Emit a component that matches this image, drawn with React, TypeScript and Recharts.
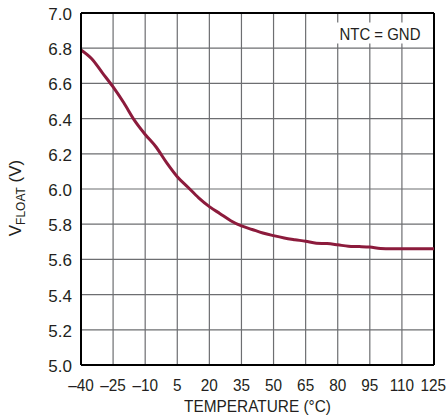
import React from 'react';
import { LineChart, Line, XAxis, YAxis, CartesianGrid, ReferenceLine, ReferenceArea } from 'recharts';

const temperatures = [-40, -35, -30, -25, -20, -15, -10, -5, 0, 5, 10, 15, 20, 25, 30, 35, 40, 45, 50, 55, 60, 65, 70, 75, 80, 85, 90, 95, 100, 105, 110, 115, 120, 125];
const vFloat = [6.79, 6.74, 6.66, 6.58, 6.49, 6.39, 6.31, 6.24, 6.15, 6.07, 6.01, 5.95, 5.9, 5.86, 5.82, 5.79, 5.77, 5.75, 5.735, 5.722, 5.712, 5.703, 5.692, 5.69, 5.683, 5.675, 5.673, 5.67, 5.662, 5.66, 5.66, 5.66, 5.66, 5.66];
const xTicks = [-40, -25, -10, 5, 20, 35, 50, 65, 80, 95, 110, 125];
const yTicks = [5.0, 5.2, 5.4, 5.6, 5.8, 6.0, 6.2, 6.4, 6.6, 6.8, 7.0];
const annotation = 'NTC = GND';
const xTitle = 'TEMPERATURE (°C)';

const data = temperatures.map((t, i) => ({ t, v: vFloat[i] }));

const FONT = '"Liberation Sans", Arial, Helvetica, sans-serif';
const TEXT = '#231f20';

const XTick = (props: any) => {
  const { x, y, payload, index } = props;
  const v = payload.value as number;
  const s = v < 0 ? `–${Math.abs(v)}` : `${v}`;
  const isLast = index === xTicks.length - 1;
  return (
    <g transform={`translate(${isLast ? x + 12 : x},${y + 26}) scale(0.93,1)`}>
      <text x={0} y={0} textAnchor={isLast ? 'end' : 'middle'} fontFamily={FONT} fontSize={16.5} fill={TEXT}>
        {s}
      </text>
    </g>
  );
};

const YTick = (props: any) => {
  const { x, y, payload } = props;
  return (
    <text x={x - 9} y={y + 7} textAnchor="end" fontFamily={FONT} fontSize={17} fill={TEXT}>
      {(payload.value as number).toFixed(1)}
    </text>
  );
};

const YLabel = (props: any) => {
  const vb = props.viewBox || {};
  const cx = 21;
  const cy = (vb.y ?? 0) + (vb.height ?? 0) / 2 + 9;
  return (
    <text
      transform={`translate(${cx},${cy}) rotate(-90)`}
      textAnchor="middle"
      fontFamily={FONT}
      fontSize={17}
      fill={TEXT}
    >
      <tspan>V</tspan>
      <tspan fontSize={12} dy={4}>FLOAT</tspan>
      <tspan dy={-4}> (V)</tspan>
    </text>
  );
};

const XLabel = (props: any) => {
  const vb = props.viewBox || {};
  const cx = (vb.x ?? 0) + (vb.width ?? 0) / 2;
  return (
    <text
      x={cx}
      y={412}
      textAnchor="middle"
      fontFamily={FONT}
      fontSize={16.5}
      fill={TEXT}
      textLength={147}
      lengthAdjust="spacingAndGlyphs"
    >
      {xTitle}
    </text>
  );
};

const NoteLabel = (props: any) => {
  const vb = props.viewBox || {};
  const cx = (vb.x ?? 0) + (vb.width ?? 0) / 2;
  const cy = (vb.y ?? 0) + (vb.height ?? 0) / 2;
  return (
    <text
      x={cx}
      y={cy + 6.5}
      textAnchor="middle"
      fontFamily={FONT}
      fontSize={17}
      fill={TEXT}
      textLength={81}
      lengthAdjust="spacingAndGlyphs"
    >
      {annotation}
    </text>
  );
};

export default function App() {
  return (
    <div style={{ position: 'absolute', left: 0, top: 0, width: 446, height: 416, background: '#fff' }}>
      <LineChart
        width={446}
        height={416}
        data={data}
        margin={{ top: 13, right: 12, left: 0, bottom: 0 }}
        style={{ fontFamily: FONT }}
      >
        <CartesianGrid stroke="#6d6e71" strokeWidth={1.2} />
        <XAxis
          dataKey="t"
          type="number"
          domain={[-40, 125]}
          ticks={xTicks}
          interval={0}
          tickLine={false}
          tickSize={0}
          tickMargin={0}
          axisLine={{ stroke: '#000', strokeWidth: 2 }}
          height={51}
          tick={<XTick />}
          label={{ content: XLabel }}
        />
        <YAxis
          type="number"
          domain={[5, 7]}
          ticks={yTicks}
          interval={0}
          tickLine={false}
          tickSize={0}
          tickMargin={0}
          axisLine={{ stroke: '#000', strokeWidth: 2 }}
          width={81}
          tick={<YTick />}
          label={{ content: YLabel }}
        />
        <ReferenceLine y={7} stroke="#000" strokeWidth={2} />
        <ReferenceLine x={125} stroke="#000" strokeWidth={2} />
        <ReferenceArea
          x1={78}
          x2={121.5}
          y1={6.826}
          y2={6.946}
          fill="#fff"
          fillOpacity={1}
          stroke="none"
          label={{ content: NoteLabel }}
        />
        <Line
          type="monotone"
          dataKey="v"
          stroke="#8c1b3c"
          strokeWidth={3}
          dot={false}
          isAnimationActive={false}
        />
      </LineChart>
    </div>
  );
}
